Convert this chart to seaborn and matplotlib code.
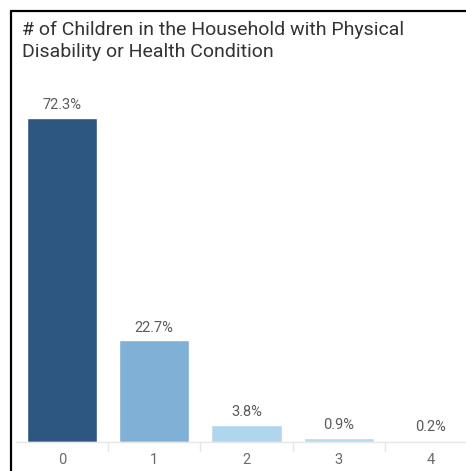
import matplotlib
matplotlib.use("Agg")
import matplotlib.pyplot as plt
import seaborn as sns
import pandas as pd
from matplotlib.lines import Line2D

# Data
children = ["0", "1", "2", "3", "4"]
share = [72.3, 22.7, 3.8, 0.9, 0.2]
bar_colors = ["#2c5680", "#80b0d5", "#b0d6ee", "#b6dbf0", "#cfe6f4"]

df = pd.DataFrame({"children": children, "share": share})

sns.set_style("white")
plt.rcParams["font.family"] = ["Roboto", "DejaVu Sans"]

W, H = 466, 471
fig = plt.figure(figsize=(W / 100, H / 100), dpi=100)

# axes placed in pixel terms: baseline at y=442, category slot ~92 px
left_px, right_px = 16, 477
base_px, top_px = 442, 83.5
ax = fig.add_axes([left_px / W, (H - base_px) / H,
                   (right_px - left_px) / W, (base_px - top_px) / H])

sns.barplot(data=df, x="children", y="share", hue="children",
            palette=bar_colors, legend=False, width=0.76, ax=ax,
            saturation=1)

ax.set_xlim(-0.5, 4.5)
ax.set_ylim(0, 80)
for i, v in enumerate(share):
    ax.annotate(f"{v}%", (i, max(v, 0.45)), xytext=(0, 4), textcoords="offset points",
                ha="center", va="bottom", fontsize=10.5, color="#5a5a5a")

ax.set_xlabel("")
ax.set_ylabel("")
ax.set_yticks([])
ax.tick_params(axis="x", length=0, pad=8, labelsize=10.5, colors="#6a6a6a")
for s in ["top", "right", "left"]:
    ax.spines[s].set_visible(False)
ax.spines["bottom"].set_color("#e6e6e6")
ax.spines["bottom"].set_linewidth(1)

# small separators between categories below the axis
for xs in [0.5, 1.5, 2.5, 3.5]:
    ax.plot([xs, xs], [0, -2], color="#e6e6e6", lw=1, clip_on=False)

fig.text(22 / W, 1 - 21 / H, "# of Children in the Household with Physical\nDisability or Health Condition",
         ha="left", va="top", fontsize=14, color="#333333", linespacing=1.3)

# dark frame on left and top
fig.add_artist(Line2D([10.5 / W, 10.5 / W], [0, 1 - 11 / H], color="black", lw=1.6))
fig.add_artist(Line2D([10.5 / W, 1], [1 - 11 / H, 1 - 11 / H], color="black", lw=1.6))

fig.savefig("out.png", dpi=100)
